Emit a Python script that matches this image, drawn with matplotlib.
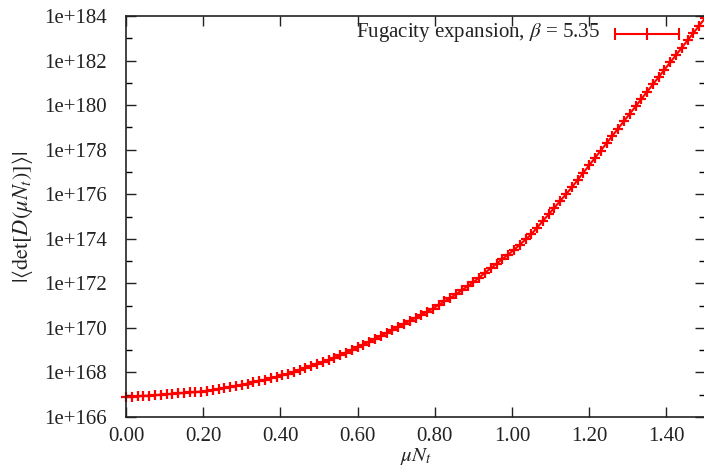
import matplotlib
matplotlib.use("Agg")
import matplotlib.pyplot as plt
import numpy as np
from matplotlib.ticker import FixedLocator, FuncFormatter
from matplotlib.lines import Line2D

# x values (mu * N_t)
mu_nt = [round(0.015 * k, 3) for k in range(101)]
# log10 of |<det D(mu N_t)>|
log10_det = [
    166.91, 166.92, 166.93, 166.95, 166.96, 166.98, 167.00, 167.02, 167.04, 167.06,
    167.08, 167.10, 167.12, 167.14, 167.18, 167.21, 167.25, 167.30, 167.35, 167.40,
    167.45, 167.50, 167.56, 167.61, 167.67, 167.73, 167.80, 167.87, 167.94, 168.02,
    168.10, 168.19, 168.28, 168.37, 168.47, 168.56, 168.66, 168.77, 168.89, 169.00,
    169.12, 169.25, 169.38, 169.51, 169.64, 169.78, 169.91, 170.05, 170.18, 170.32,
    170.45, 170.59, 170.73, 170.87, 171.03, 171.19, 171.34, 171.51, 171.69, 171.87,
    172.05, 172.26, 172.47, 172.68, 172.88, 173.09, 173.29, 173.50, 173.73, 173.97,
    174.20, 174.50, 174.80, 175.10, 175.40, 175.70, 176.00, 176.31, 176.64, 176.97,
    177.30, 177.63, 177.96, 178.29, 178.62, 178.95, 179.28, 179.61, 179.94, 180.27,
    180.60, 180.93, 181.26, 181.59, 181.92, 182.25, 182.58, 182.91, 183.24, 183.57,
    183.90,
]
x_ticks = [0.0, 0.2, 0.4, 0.6, 0.8, 1.0, 1.2, 1.4]
y_major_exp = [166, 168, 170, 172, 174, 176, 178, 180, 182, 184]
y_minor_exp = [167, 169, 171, 173, 175, 177, 179, 181, 183]
legend_label = r"Fugacity expansion, $\beta$ = 5.35"

plt.rcParams['font.family'] = ['Liberation Serif', 'DejaVu Serif']
plt.rcParams['mathtext.fontset'] = 'stix'

TXT = '#222222'
RED = '#ff0000'

fig = plt.figure(figsize=(7.04, 4.66), dpi=100)
ax = fig.add_axes([126 / 704, 49 / 466, (705 - 126) / 704, 401 / 466])

y = [10.0 ** v for v in log10_det]
ax.plot(mu_nt, y, color=RED, lw=1.5, marker='+', ms=7, mew=1.6, clip_on=False)

ax.set_yscale('log')
ax.set_xlim(0, 1.5)
ax.set_ylim(10.0 ** 166, 10.0 ** 184)

ax.xaxis.set_major_locator(FixedLocator(x_ticks))
ax.xaxis.set_major_formatter(FuncFormatter(lambda v, p: f"{v:.2f}"))
ax.yaxis.set_major_locator(FixedLocator([10.0 ** e for e in y_major_exp]))
ax.yaxis.set_minor_locator(FixedLocator([10.0 ** e for e in y_minor_exp]))
ax.yaxis.set_major_formatter(FuncFormatter(lambda v, p: f"1e+{int(round(np.log10(v)))}"))
ax.yaxis.set_minor_formatter(FuncFormatter(lambda v, p: ""))
ax.xaxis.set_minor_locator(FixedLocator([]))

ax.tick_params(axis='both', which='major', direction='in', length=7, width=1,
               top=True, right=True, labelsize=15, colors=TXT)
ax.tick_params(axis='y', which='major', pad=14)
ax.tick_params(axis='x', which='major', pad=7)
ax.tick_params(axis='y', which='minor', direction='in', length=4, width=1,
               left=True, right=True)
for s in ax.spines.values():
    s.set_color(TXT)
    s.set_linewidth(1.2)

ax.set_xlabel(r"$\mu N_t$", fontsize=15, color=TXT, labelpad=0)
ax.set_ylabel(r"$|\langle\det[D(\mu N_t)]\rangle|$", fontsize=16, color=TXT, labelpad=6)

# legend key (gnuplot style)
fig.text(600 / 704, 1 - 33 / 466, legend_label, ha='right', va='center',
         fontsize=15, color=TXT)
kx0, kx1, ky = 615 / 704, 679 / 704, 1 - 34 / 466
fig.add_artist(Line2D([kx0, kx1], [ky, ky], transform=fig.transFigure, color=RED, lw=1.5))
fig.add_artist(Line2D([kx0, kx1], [ky, ky], transform=fig.transFigure, color=RED, lw=0,
                      marker='|', ms=8, mew=1.5))
fig.add_artist(Line2D([(kx0 + kx1) / 2], [ky], transform=fig.transFigure, color=RED, lw=0,
                      marker='|', ms=8, mew=1.5))

fig.savefig('out.png', dpi=100)
